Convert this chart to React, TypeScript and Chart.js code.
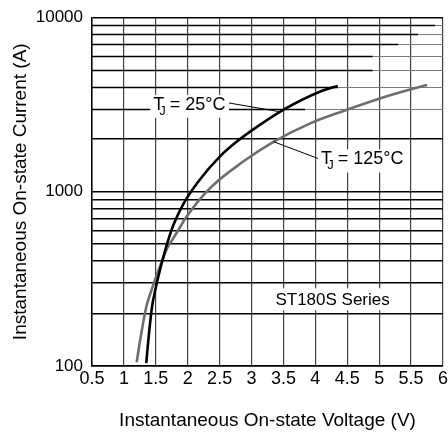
import { useEffect, useRef } from "react";
import { Chart, registerables } from "chart.js";

Chart.register(...registerables);

// ---- data ----
const voltage25 = [1.35, 1.383, 1.44, 1.49, 1.59, 1.69, 1.78, 1.93, 2.17, 2.51, 2.77, 3.05, 3.53, 4.06, 4.35];
const current25 = [104, 141, 218, 271, 386, 523, 650, 850, 1150, 1600, 1940, 2310, 3000, 3740, 4050];

const voltage125 = [1.2, 1.255, 1.35, 1.43, 1.58, 1.68, 1.75, 1.85, 1.97, 2.35, 2.87, 3.35, 3.92, 4.43, 5.17, 5.69, 5.75];
const current125 = [105, 141, 218, 271, 386, 476, 523, 600, 710, 1050, 1490, 1940, 2470, 2900, 3580, 4050, 4100];

const currentGridTicks = [100, 200, 300, 400, 500, 600, 700, 800, 900, 1000, 2000, 3000, 4000, 5000, 6000, 7000, 8000, 9000, 10000];
const currentTickLabels = [100, 1000, 10000];

// upper-decade grid lines are drawn heavy only up to these voltages, thin beyond
const heavyGridCurrents = [3000, 4000, 5000, 6000, 7000, 8000, 9000];
const heavyGridEndVoltage = [3.84, 4.36, 4.9, 4.9, 5.3, 5.61, 5.88];

const seriesNames = ["TJ = 25°C", "TJ = 125°C"];
const deviceLabel = "ST180S Series";

// annotation anchors in data coordinates [voltage, current]
const label25Anchor = [1.46, 2950];
const leader25 = [[2.63, 3240], [3.45, 2875]];
const label125Anchor = [4.09, 1434];
const leader125 = [[3.34, 1940], [4.04, 1553]];
const deviceAnchor = [4.27, 223];

const FONT = '"Liberation Sans", Arial, Helvetica, sans-serif';

function toPoints(xs: number[], ys: number[]) {
  return xs.map((x, i) => ({ x, y: ys[i] }));
}

const gridPlugin = {
  id: "splitGrid",
  beforeDatasetsDraw(chart: any) {
    const { ctx, scales, chartArea } = chart;
    const xs = scales.x;
    const ys = scales.y;
    ctx.save();
    heavyGridCurrents.forEach((c, i) => {
      const y = Math.round(ys.getPixelForValue(c)) + 0.5;
      const xEnd = xs.getPixelForValue(heavyGridEndVoltage[i]);
      ctx.strokeStyle = "#000";
      ctx.lineWidth = 1.6;
      ctx.beginPath();
      ctx.moveTo(chartArea.left, y);
      ctx.lineTo(xEnd, y);
      ctx.stroke();
      ctx.strokeStyle = "#7a7a7a";
      ctx.lineWidth = 1;
      ctx.beginPath();
      ctx.moveTo(xEnd, y);
      ctx.lineTo(chartArea.right, y);
      ctx.stroke();
    });
    ctx.restore();
  },
};

const annotPlugin = {
  id: "annot",
  afterDatasetsDraw(chart: any) {
    const { ctx, scales } = chart;
    const xs = scales.x;
    const ys = scales.y;
    const px = (v: number) => xs.getPixelForValue(v);
    const py = (v: number) => ys.getPixelForValue(v);
    ctx.save();

    ctx.strokeStyle = "#000";
    ctx.lineWidth = 1;
    for (const ld of [leader25, leader125]) {
      ctx.beginPath();
      ctx.moveTo(px(ld[0][0]), py(ld[0][1]));
      ctx.lineTo(px(ld[1][0]), py(ld[1][1]));
      ctx.stroke();
    }

    const drawTJ = (anchor: number[], rest: string) => {
      const size = 18;
      const x0 = px(anchor[0]);
      const base = py(anchor[1]);
      ctx.font = `${size}px ${FONT}`;
      const tw = ctx.measureText("T").width;
      const rw = ctx.measureText(rest).width;
      const total = tw * 0.55 + 7 + 4 + rw;
      ctx.fillStyle = "#fff";
      ctx.fillRect(x0 - 3, base - 15, total + 6, 23);
      ctx.fillStyle = "#000";
      ctx.textAlign = "left";
      ctx.textBaseline = "alphabetic";
      ctx.fillText("T", x0, base);
      ctx.font = `${Math.round(size * 0.72)}px ${FONT}`;
      const jx = x0 + tw * 0.55;
      ctx.fillText("J", jx, base + 5);
      const jw = ctx.measureText("J").width;
      ctx.font = `${size}px ${FONT}`;
      ctx.fillText(rest, jx + jw + 4, base);
    };

    drawTJ(label25Anchor, seriesNames[0].replace("TJ ", ""));
    drawTJ(label125Anchor, seriesNames[1].replace("TJ ", ""));

    ctx.font = `17px ${FONT}`;
    const dw = ctx.measureText(deviceLabel).width;
    const dx = px(deviceAnchor[0]);
    const dy = py(deviceAnchor[1]);
    ctx.fillStyle = "#fff";
    ctx.fillRect(dx - dw / 2 - 3, dy - 17, dw + 6, 22);
    ctx.fillStyle = "#000";
    ctx.textAlign = "center";
    ctx.textBaseline = "alphabetic";
    ctx.fillText(deviceLabel, dx, dy);

    ctx.restore();
  },
};

export default function App() {
  const ref = useRef<HTMLCanvasElement | null>(null);

  useEffect(() => {
    if (!ref.current) return;
    const chart = new Chart(ref.current, {
      type: "line",
      data: {
        datasets: [
          {
            label: seriesNames[0],
            data: toPoints(voltage25, current25),
            borderColor: "#000000",
            borderWidth: 2.6,
            pointRadius: 0,
            cubicInterpolationMode: "monotone",
            fill: false,
          },
          {
            label: seriesNames[1],
            data: toPoints(voltage125, current125),
            borderColor: "#6e6e6e",
            borderWidth: 2.6,
            pointRadius: 0,
            cubicInterpolationMode: "monotone",
            fill: false,
          },
        ],
      },
      options: {
        animation: false,
        responsive: false,
        devicePixelRatio: 1,
        layout: { padding: { top: 15, left: 0, right: 0, bottom: 0 } },
        plugins: {
          legend: { display: false },
          tooltip: { enabled: false },
        },
        scales: {
          x: {
            type: "linear",
            min: 0.5,
            max: 6,
            ticks: {
              stepSize: 0.5,
              padding: 0,
              color: "#000",
              font: { family: FONT, size: 18, lineHeight: "27px" },
              maxRotation: 0,
              autoSkip: false,
              callback: (v: any) => String(Number(v)),
            },
            grid: { color: "#404040", lineWidth: 1.2, drawTicks: false },
            border: { color: "#000", width: 1.5 },
            title: {
              display: true,
              text: "Instantaneous On-state Voltage (V)",
              color: "#000",
              font: { family: FONT, size: 19, lineHeight: 1 },
              padding: { top: 0, bottom: 4 },
            },
            afterFit: (s: any) => {
              s.height = 68;
            },
          },
          y: {
            type: "logarithmic",
            min: 100,
            max: 10000,
            afterBuildTicks: (s: any) => {
              s.ticks = currentGridTicks.map((v) => ({ value: v }));
            },
            ticks: {
              padding: 9,
              color: "#000",
              autoSkip: false,
              font: { family: FONT, size: 17, lineHeight: 1 },
              callback: (v: any) => (currentTickLabels.includes(Number(v)) ? String(v) : ""),
            },
            grid: {
              color: (c: any) =>
                c.tick && heavyGridCurrents.includes(Number(c.tick.value)) ? "rgba(0,0,0,0)" : "#000",
              lineWidth: 1.6,
              drawTicks: false,
            },
            border: { color: "#000", width: 1.5 },
            title: {
              display: true,
              text: "Instantaneous On-state Current (A)",
              color: "#000",
              font: { family: FONT, size: 19, lineHeight: 1 },
              padding: { top: 11, bottom: 0 },
            },
            afterFit: (s: any) => {
              s.width = 92;
            },
          },
        },
      },
      plugins: [gridPlugin, annotPlugin],
    } as any);
    return () => chart.destroy();
  }, []);

  return (
    <div style={{ position: "absolute", left: 0, top: 0, width: 448, height: 434, background: "#fff" }}>
      <canvas ref={ref} width={448} height={434} style={{ width: 448, height: 434, display: "block" }} />
    </div>
  );
}
